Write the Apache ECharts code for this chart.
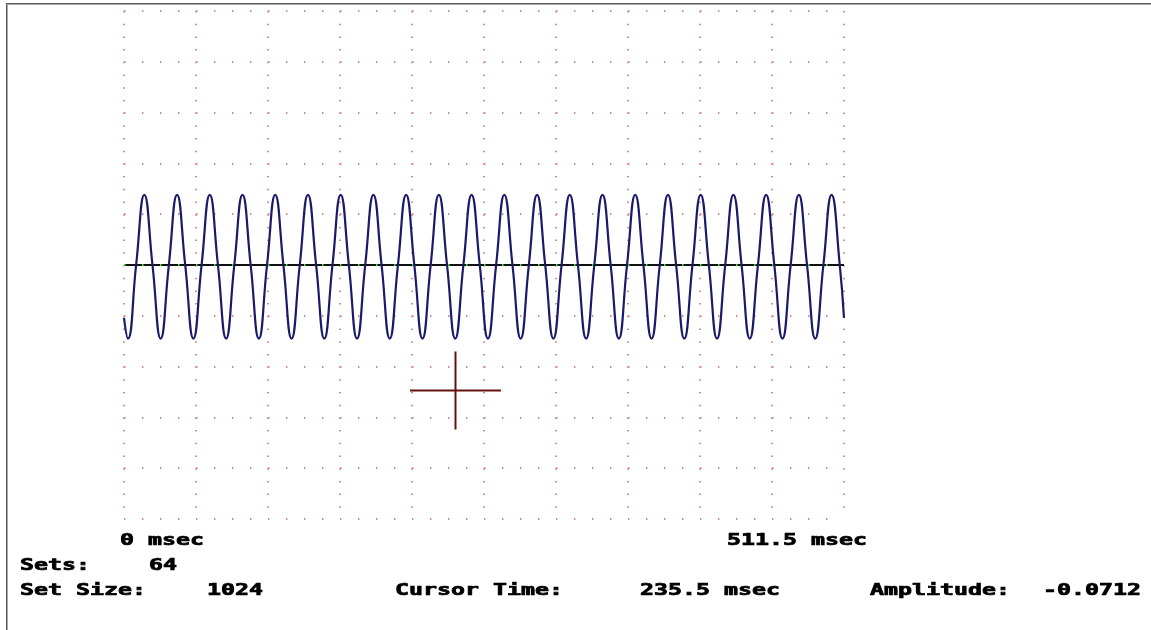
<!DOCTYPE html>
<html>
<head>
<meta charset="utf-8">
<script src="https://cdn.jsdelivr.net/npm/echarts@6/dist/echarts.min.js"></script>
<style>
  html, body { margin: 0; padding: 0; background: #ffffff; }
  #chart { width: 1151px; height: 630px; }
</style>
</head>
<body>
<div id="chart"></div>
<script>
// ---------------- data ----------------
const timeRange = [0, 511.5];          // msec
const timeStep = 51.15;                // one grid division (msec)
const ampRange = [-0.25, 0.25];
const ampStep = 0.05;

// waveform key points (msec, amplitude)
const waveTime = [0,
  2.80, 8.61, 14.43, 20.24, 26.05, 31.86, 37.68, 43.49, 49.30, 55.11,
  60.93, 66.74, 72.55, 78.36, 84.18, 89.99, 95.80, 101.61, 107.43, 113.24,
  119.05, 124.86, 130.68, 136.49, 142.30, 148.11, 153.93, 159.74, 165.55, 171.36,
  177.18, 182.99, 188.80, 194.61, 200.43, 206.24, 212.05, 217.86, 223.68, 229.49,
  235.30, 241.11, 246.93, 252.74, 258.55, 264.36, 270.18, 275.99, 281.80, 287.61,
  293.43, 299.24, 305.05, 310.86, 316.68, 322.49, 328.30, 334.11, 339.93, 345.74,
  351.55, 357.36, 363.18, 368.99, 374.80, 380.61, 386.43, 392.24, 398.05, 403.86,
  409.68, 415.49, 421.30, 427.11, 432.93, 438.74, 444.55, 450.36, 456.18, 461.99,
  467.80, 473.61, 479.43, 485.24, 491.05, 496.86, 502.68, 508.49,
  511.5];
const waveAmp = [-0.052,
  -0.0725, 0, 0.069, 0, -0.0725, 0, 0.069, 0, -0.0725, 0,
  0.069, 0, -0.0725, 0, 0.069, 0, -0.0725, 0, 0.069, 0,
  -0.0725, 0, 0.069, 0, -0.0725, 0, 0.069, 0, -0.0725, 0,
  0.069, 0, -0.0725, 0, 0.069, 0, -0.0725, 0, 0.069, 0,
  -0.0725, 0, 0.069, 0, -0.0725, 0, 0.069, 0, -0.0725, 0,
  0.069, 0, -0.0725, 0, 0.069, 0, -0.0725, 0, 0.069, 0,
  -0.0725, 0, 0.069, 0, -0.0725, 0, 0.069, 0, -0.0725, 0,
  0.069, 0, -0.0725, 0, 0.069, 0, -0.0725, 0, 0.069, 0,
  -0.0725, 0, 0.069, 0, -0.0725, 0, 0.069, 0,
  -0.052];

// cursor crosshair (msec / amplitude)
const cursorTime = 235.5;
const cursorAmp = -0.1235;
const cursorArmTime = [203.2, 267.8];
const cursorArmAmp = [-0.0851, -0.1619];

// texts
const timeLabels = ['0 msec', '511.5 msec'];
const infoLabels = ['Sets:', 'Set Size:', 'Cursor Time:', 'Amplitude:'];
const infoValues = ['64', '1024', '235.5 msec', '-0.0712'];

// ---------------- chart ----------------
const wave = waveTime.map((t, i) => [t, waveAmp[i]]);
const zeroLine = [[timeRange[0], 0], [timeRange[1], 0]];
const cursorH = [[cursorArmTime[0], cursorAmp], [cursorArmTime[1], cursorAmp]];
const cursorV = [[cursorTime, cursorArmAmp[0]], [cursorTime, cursorArmAmp[1]]];

const FONT = 'bold 15px "DejaVu Sans Mono"';
const SX = 1.55;
function txt(text, x, y) {
  return {
    type: 'text', x: x, y: y, scaleX: SX, scaleY: 1, silent: true,
    style: { text: text, x: 0, y: 0, fill: '#000', stroke: '#000', lineWidth: 0.7,
             font: FONT, textVerticalAlign: 'middle', verticalAlign: 'middle' }
  };
}

const dotColor = '#d98c8c';

const chart = echarts.init(document.getElementById('chart'), null, { renderer: 'canvas' });
chart.setOption({
  animation: false,
  backgroundColor: '#ffffff',
  grid: { left: 124, top: 11, width: 720, height: 508, containLabel: false },
  xAxis: {
    type: 'value', min: timeRange[0], max: timeRange[1], interval: timeStep,
    axisLine: { show: false }, axisTick: { show: false }, axisLabel: { show: false },
    splitLine: { show: true, lineStyle: { color: dotColor, width: 2, type: [1.5, 11.2] } }
  },
  yAxis: {
    type: 'value', min: ampRange[0], max: ampRange[1], interval: ampStep,
    axisLine: { show: false }, axisTick: { show: false }, axisLabel: { show: false },
    splitLine: { show: true, lineStyle: { color: dotColor, width: 2, type: [1.5, 16.5] } }
  },
  series: [
    {
      type: 'line', data: zeroLine, symbol: 'none', silent: true, z: 1,
      lineStyle: { color: '#101010', width: 2 }
    },
    {
      type: 'line', data: zeroLine, symbol: 'none', silent: true, z: 1.5,
      lineStyle: { color: '#3ee03e', width: 2, type: [1.5, 16.5] }
    },
    {
      type: 'line', data: wave, symbol: 'none', silent: true, z: 3, smooth: 0.5,
      lineStyle: { color: '#1a1a6a', width: 2.2 }
    },
    {
      type: 'line', data: cursorH, symbol: 'none', silent: true, z: 4,
      lineStyle: { color: '#661010', width: 2 }
    },
    {
      type: 'line', data: cursorV, symbol: 'none', silent: true, z: 4,
      lineStyle: { color: '#661010', width: 2 }
    }
  ],
  graphic: [
    { type: 'rect', silent: true, shape: { x: 6, y: 3, width: 1145, height: 1 }, style: { fill: '#5a5a5a' } },
    { type: 'rect', silent: true, shape: { x: 7, y: 4, width: 1144, height: 1 }, style: { fill: '#a8a8a8' } },
    { type: 'rect', silent: true, shape: { x: 6, y: 3, width: 1, height: 627 }, style: { fill: '#5a5a5a' } },
    { type: 'rect', silent: true, shape: { x: 7, y: 4, width: 1, height: 626 }, style: { fill: '#a8a8a8' } },
    txt(timeLabels[0], 120, 541.5),
    txt(timeLabels[1], 727, 541.5),
    txt(infoLabels[0], 20, 566),
    txt(infoValues[0], 149, 566),
    txt(infoLabels[1], 20, 591),
    txt(infoValues[1], 207, 591),
    txt(infoLabels[2], 395, 591),
    txt(infoValues[2], 640, 591),
    txt(infoLabels[3], 870, 591),
    txt(infoValues[3], 1043, 591)
  ]
});
</script>
</body>
</html>
